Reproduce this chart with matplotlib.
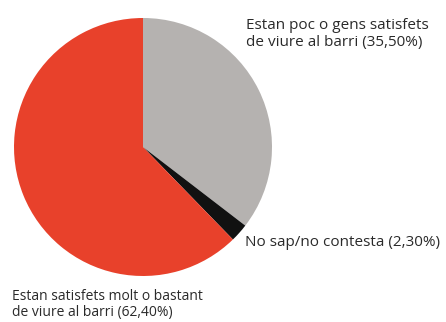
import matplotlib.pyplot as plt

labels = [
    "Estan poc o gens satisfets\nde viure al barri (35,50%)",
    "No sap/no contesta (2,30%)",
    "Estan satisfets molt o bastant\nde viure al barri (62,40%)",
]
values = [35.5, 2.3, 62.4]
colors = ["#b5b2b0", "#111111", "#e8412b"]

W, H = 446, 322
fig = plt.figure(figsize=(W / 100, H / 100), dpi=100)
ax = fig.add_axes([0, 0, 1, 1])

ax.pie(values, colors=colors, startangle=90, counterclock=False,
       center=(143, H - 147), radius=129, frame=True,
       wedgeprops=dict(linewidth=0))
ax.set_xlim(0, W)
ax.set_ylim(0, H)
ax.set_aspect("equal")
ax.axis("off")

font = dict(family=["Open Sans", "DejaVu Sans"], color="#2a2a2a")
ax.text(246, H - 34, labels[0], va="center", ha="left", fontsize=11,
        linespacing=1.2, **font)
ax.text(245, H - 242, labels[1], va="center", ha="left", fontsize=11, **font)
ax.text(12, H - 289, labels[2], va="top", ha="left", fontsize=10,
        linespacing=1.05, **font)

fig.savefig("out.png", dpi=100, facecolor="white")
